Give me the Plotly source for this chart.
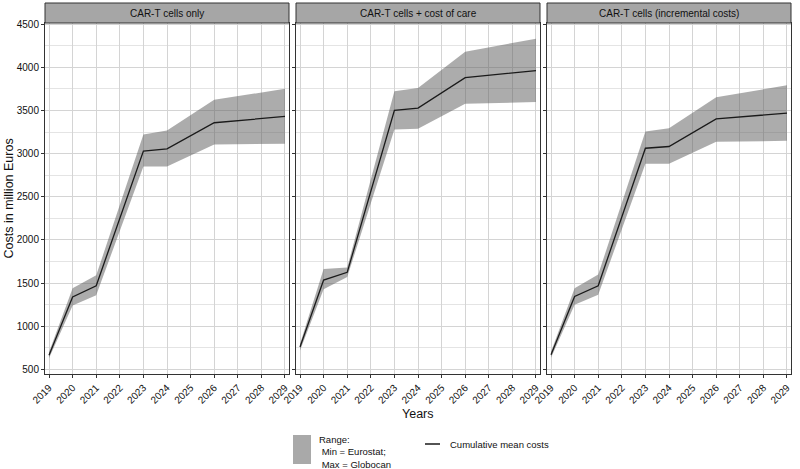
import plotly.graph_objects as go
from plotly.subplots import make_subplots

years = [2019, 2020, 2021, 2023, 2024, 2026, 2029]
panels = ["CAR-T cells only", "CAR-T cells + cost of care", "CAR-T cells (incremental costs)"]

# cumulative mean costs (million Euros)
mean_cells = [665, 1340, 1470, 3030, 3055, 3357, 3430]
mean_care = [760, 1535, 1625, 3500, 3526, 3880, 3960]
mean_incr = [670, 1345, 1470, 3062, 3082, 3402, 3468]

# range: min = Eurostat, max = Globocan
low_cells = [630, 1240, 1360, 2850, 2850, 3105, 3115]
high_cells = [700, 1440, 1590, 3222, 3268, 3622, 3750]
low_care = [720, 1430, 1570, 3280, 3288, 3578, 3597]
high_care = [795, 1665, 1680, 3722, 3760, 4180, 4330]
low_incr = [635, 1250, 1365, 2882, 2882, 3136, 3148]
high_incr = [705, 1440, 1600, 3255, 3293, 3652, 3790]

y_ticks = [500, 1000, 1500, 2000, 2500, 3000, 3500, 4000, 4500]
x_ticks = list(range(2019, 2030))

series = [(low_cells, mean_cells, high_cells),
          (low_care, mean_care, high_care),
          (low_incr, mean_incr, high_incr)]

fig = make_subplots(rows=1, cols=3, shared_yaxes=True)

for i, (lo, mid, hi) in enumerate(series, start=1):
    fig.add_trace(go.Scatter(x=years, y=lo, mode="lines", line=dict(width=0),
                             showlegend=False, hoverinfo="skip"), row=1, col=i)
    fig.add_trace(go.Scatter(x=years, y=hi, mode="lines", line=dict(width=0),
                             fill="tonexty", fillcolor="rgba(95,95,95,0.52)",
                             showlegend=False, hoverinfo="skip"), row=1, col=i)
    fig.add_trace(go.Scatter(x=years, y=mid, mode="lines",
                             line=dict(color="#1a1a1a", width=1.3),
                             showlegend=False), row=1, col=i)

W, H = 800, 469
ml, mr, mt, mb = 45, 9, 23, 95
pw = W - ml - mr
ph = H - mt - mb
panel_w = 244
gap = 7
domains = []
for k in range(3):
    x0 = k * (panel_w + gap) / pw
    x1 = min(1.0, (k * (panel_w + gap) + panel_w) / pw)
    domains.append((x0, x1))

font = "Liberation Sans, Arial, sans-serif"

for k in range(3):
    ax = "xaxis" if k == 0 else f"xaxis{k + 1}"
    fig.layout[ax].update(
        domain=domains[k], range=[2018.83, 2029.17], tickvals=x_ticks,
        ticktext=[str(y) for y in x_ticks], tickangle=-45,
        ticks="outside", ticklen=3, tickcolor="#333333",
        showgrid=True, gridcolor="#d4d4d4", gridwidth=1,
        showline=True, mirror=True, linecolor="#333333", linewidth=1,
        zeroline=False, tickfont=dict(size=10, color="#111111", family=font))
    ay = "yaxis" if k == 0 else f"yaxis{k + 1}"
    fig.layout[ay].update(
        range=[448, 4512], tickvals=y_ticks, showticklabels=(k == 0),
        ticks="outside", ticklen=3, tickcolor="#333333",
        showgrid=True, gridcolor="#d4d4d4", gridwidth=1,
        minor=dict(dtick=250, tick0=250, showgrid=True, gridcolor="#e4e4e4", gridwidth=0.8),
        showline=True, mirror=True, linecolor="#333333", linewidth=1,
        zeroline=False, tickfont=dict(size=10, color="#111111", family=font))

    # facet strip
    fig.add_shape(type="rect", xref="paper", yref="paper",
                  x0=domains[k][0], x1=domains[k][1], y0=1.0, y1=1 + 20 / ph,
                  fillcolor="#a6a6a6", line=dict(color="#333333", width=1))
    fig.add_annotation(text=panels[k], xref="paper", yref="paper",
                       x=(domains[k][0] + domains[k][1]) / 2, y=1 + 10 / ph,
                       showarrow=False, xanchor="center", yanchor="middle",
                       font=dict(size=10, color="#111111", family=font))

# axis titles
fig.add_annotation(text="Years", xref="paper", yref="paper", x=0.5, y=-40 / ph,
                   showarrow=False, xanchor="center", yanchor="middle",
                   font=dict(size=12.5, color="#111111", family=font))
fig.add_annotation(text="Costs in million Euros", xref="paper", yref="paper",
                   x=-37 / pw, y=0.5, textangle=-90, showarrow=False,
                   xanchor="center", yanchor="middle",
                   font=dict(size=12.5, color="#111111", family=font))

# legend drawn below the panels
def px_x(p):
    return (p - ml) / pw


def px_y(p):
    return (H - mb - p) / ph


fig.add_shape(type="rect", xref="paper", yref="paper",
              x0=px_x(293), x1=px_x(311), y0=px_y(464), y1=px_y(435),
              fillcolor="#a9a9a9", line=dict(width=0))
fig.add_annotation(text="Range:<br> Min = Eurostat;<br> Max = Globocan",
                   xref="paper", yref="paper", x=px_x(317), y=px_y(452),
                   showarrow=False, xanchor="left", yanchor="middle", align="left",
                   font=dict(size=9.5, color="#111111", family=font))
fig.add_shape(type="line", xref="paper", yref="paper",
              x0=px_x(425), x1=px_x(440), y0=px_y(444), y1=px_y(444),
              line=dict(color="#1a1a1a", width=1.5))
fig.add_annotation(text="Cumulative mean costs", xref="paper", yref="paper",
                   x=px_x(448), y=px_y(444), showarrow=False,
                   xanchor="left", yanchor="middle",
                   font=dict(size=9.5, color="#111111", family=font))

fig.update_layout(width=W, height=H, margin=dict(l=ml, r=mr, t=mt, b=mb),
                  plot_bgcolor="white", paper_bgcolor="white",
                  showlegend=False, font=dict(family=font))

fig.write_html("out.html", config={"displayModeBar": False},
               post_script="document.body.style.margin='0px';")
